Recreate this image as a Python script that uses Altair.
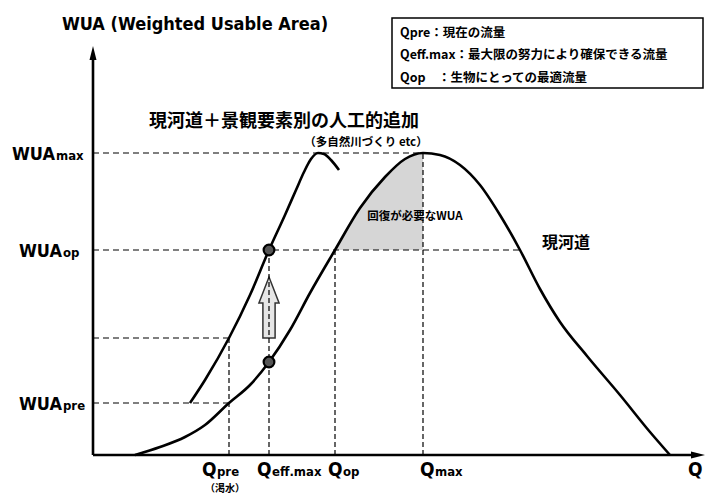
import altair as alt
import pandas as pd

# ---- diagram data (Q = discharge units, W = WUA units) ----
cur_q = [42, 67, 92, 112, 136, 157, 176, 197, 217, 242, 267, 292, 312, 330, 347, 367, 387, 407, 427, 447, 467, 494, 527, 557, 577]
cur_w = [0, 8, 18, 30, 52, 70, 93, 125, 162, 205, 247, 278, 296, 302, 300, 290, 270, 240, 205, 166, 133, 99, 60, 23, 0]

art_q = [97, 112, 136, 157, 176, 192, 203, 211, 218, 225, 231, 238, 246]
art_w = [52, 75, 117, 160, 205, 240, 265, 283, 296, 302, 301, 295, 285]

shade_q = [242, 267, 292, 312, 330]
shade_w = [205, 247, 278, 296, 302]

Q_PRE, Q_EFF, Q_OP, Q_MAX = 136, 176, 242, 330
W_MAX, W_OP, W_PRE, W_AUX = 302, 205, 52, 117
Q_OP_RIGHT = 427

hr_x = [0, 0, 0, 0]
hr_x2 = [Q_MAX, Q_OP_RIGHT, Q_PRE, Q_PRE]
hr_y = [W_MAX, W_OP, W_AUX, W_PRE]

vr_x = [Q_PRE, Q_EFF, Q_OP, Q_MAX]
vr_y2 = [W_AUX, W_OP, W_OP, W_MAX]

pt_q = [Q_EFF, Q_EFF]
pt_w = [W_OP, 93]

arrow_q = [Q_EFF]
arrow_w = [147.5]

legend_lines = ["Qpre：現在の流量", "Qeff.max：最大限の努力により確保できる流量", "Qop　：生物にとっての最適流量"]
legend_w = [422, 400, 377]

ylab_main = ["WUA", "WUA", "WUA"]
ylab_sub = ["max", "op", "pre"]
ylab_w = [295, 198, 45]
ylab_x = [-38, -31, -31]

xlab_sub = ["pre", "eff.max", "op", "max"]
xlab_q = [109, 164, 235, 327]
xend_q = [595]

XS = alt.Scale(domain=[-85, 612])
YS = alt.Scale(domain=[-41, 447])
NARROW = "Liberation Sans Narrow, DejaVu Sans Condensed, Arial Narrow, sans-serif"
CJK = "Noto Sans CJK JP"

def X(f="q"):
    return alt.X(f"{f}:Q", scale=XS, axis=None)

def Y(f="w"):
    return alt.Y(f"{f}:Q", scale=YS, axis=None)

cur_df = pd.DataFrame({"q": cur_q, "w": cur_w})
art_df = pd.DataFrame({"q": art_q, "w": art_w})
shade_df = pd.DataFrame({"q": shade_q, "w": shade_w, "w2": [W_OP] * len(shade_q)})
hr_df = pd.DataFrame({"q": hr_x, "q2": hr_x2, "w": hr_y})
vr_df = pd.DataFrame({"q": vr_x, "w": [0] * 4, "w2": vr_y2})

shade = alt.Chart(shade_df).mark_area(color="#d6d6d6", interpolate="monotone").encode(
    x=X(), y=Y(), y2="w2:Q")

hrules = alt.Chart(hr_df).mark_rule(color="black", strokeDash=[6, 4], strokeWidth=1.2).encode(
    x=X(), x2="q2:Q", y=Y())
vrules = alt.Chart(vr_df).mark_rule(color="black", strokeDash=[5, 3], strokeWidth=1.2).encode(
    x=X(), y=Y(), y2="w2:Q")

cur_line = alt.Chart(cur_df).mark_line(color="black", strokeWidth=2.6, interpolate="monotone").encode(
    x=X(), y=Y())
art_line = alt.Chart(art_df).mark_line(color="black", strokeWidth=2.6, interpolate="monotone").encode(
    x=X(), y=Y())

# axes
axes_df = pd.DataFrame({"q": [0, 0], "q2": [0, 603], "w": [0, 0], "w2": [400, 0]})
axes = alt.Chart(axes_df).mark_rule(color="black", strokeWidth=2.6).encode(
    x=X(), x2="q2:Q", y=Y(), y2="w2:Q")
tipy = alt.Chart(pd.DataFrame({"q": [0], "w": [402]})).mark_point(
    shape="M -0.5 1 L 0 -1 L 0.5 1 Z", size=196, filled=True, color="black", opacity=1).encode(x=X(), y=Y())
tipx = alt.Chart(pd.DataFrame({"q": [605], "w": [0]})).mark_point(
    shape="M -1 -0.5 L 1 0 L -1 0.5 Z", size=196, filled=True, color="black", opacity=1).encode(x=X(), y=Y())

arrow = alt.Chart(pd.DataFrame({"q": arrow_q, "w": arrow_w})).mark_point(
    shape="M -0.2 1 L 0.2 1 L 0.2 -0.15 L 0.33 -0.15 L 0 -1 L -0.33 -0.15 L -0.2 -0.15 Z",
    size=3721, filled=True, fill="#e6e6e6", stroke="#333333", strokeWidth=1.5, opacity=1).encode(x=X(), y=Y())

pts = alt.Chart(pd.DataFrame({"q": pt_q, "w": pt_w})).mark_point(
    shape="circle", size=115, filled=True, fill="#555555", stroke="black", strokeWidth=2.2, opacity=1).encode(
    x=X(), y=Y())

# legend box
box = alt.Chart(pd.DataFrame({"q": [299], "q2": [610], "w": [437], "w2": [367]})).mark_rect(
    fill="white", stroke="black", strokeWidth=1.5).encode(x=X(), x2="q2:Q", y=Y(), y2="w2:Q")
legend = alt.Chart(pd.DataFrame({"q": [307] * 3, "w": legend_w, "t": legend_lines})).mark_text(
    align="left", baseline="middle", font=CJK, fontSize=12.5, fontWeight="bold", color="black").encode(
    x=X(), y=Y(), text="t:N")

def txt(df, **kw):
    base = dict(baseline="middle", fontWeight="bold", color="black")
    base.update(kw)
    return alt.Chart(df).mark_text(**base).encode(x=X(), y=Y(), text="t:N")

axis_title = txt(pd.DataFrame({"q": [102], "w": [430], "t": ["WUA (Weighted Usable Area)"]}),
                 align="center", font=NARROW, fontSize=18)

yl_main = txt(pd.DataFrame({"q": ylab_x, "w": ylab_w, "t": ylab_main}),
              align="right", baseline="alphabetic", font=NARROW, fontSize=18)
yl_sub = txt(pd.DataFrame({"q": [x + 1 for x in ylab_x], "w": ylab_w, "t": ylab_sub}),
             align="left", baseline="alphabetic", font=NARROW, fontSize=13)

XL_W = -21
xl_main = txt(pd.DataFrame({"q": xlab_q + xend_q, "w": [XL_W] * 5, "t": ["Q"] * 5}),
              align="left", baseline="alphabetic", font=NARROW, fontSize=19)
xl_sub = txt(pd.DataFrame({"q": [x + 15 for x in xlab_q], "w": [XL_W] * 4, "t": xlab_sub}),
             align="left", baseline="alphabetic", font=NARROW, fontSize=13)

title_cjk = txt(pd.DataFrame({"q": [191], "w": [333], "t": ["現河道＋景観要素別の人工的追加"]}),
                align="center", font=CJK, fontSize=18)
sub_cjk = txt(pd.DataFrame({"q": [273], "w": [312], "t": ["（多自然川づくり etc）"]}),
              align="center", font=CJK, fontSize=11.5)
river = txt(pd.DataFrame({"q": [473], "w": [212], "t": ["現河道"]}),
            align="center", font=CJK, fontSize=16)
need = txt(pd.DataFrame({"q": [322], "w": [238], "t": ["回復が必要なWUA"]}),
           align="center", font=CJK, fontSize=11.5)
drought = txt(pd.DataFrame({"q": [132], "w": [-34], "t": ["（渇水）"]}),
              align="center", font=CJK, fontSize=10)

chart = alt.layer(
    shade, hrules, arrow, vrules, cur_line, art_line, axes, tipy, tipx, pts,
    box, legend, axis_title, yl_main, yl_sub, xl_main, xl_sub,
    title_cjk, sub_cjk, river, need, drought,
).properties(width=697, height=488, padding=0, autosize="none").configure_view(stroke=None)

chart.save("out.html", embed_options={"renderer": "svg", "actions": False})
